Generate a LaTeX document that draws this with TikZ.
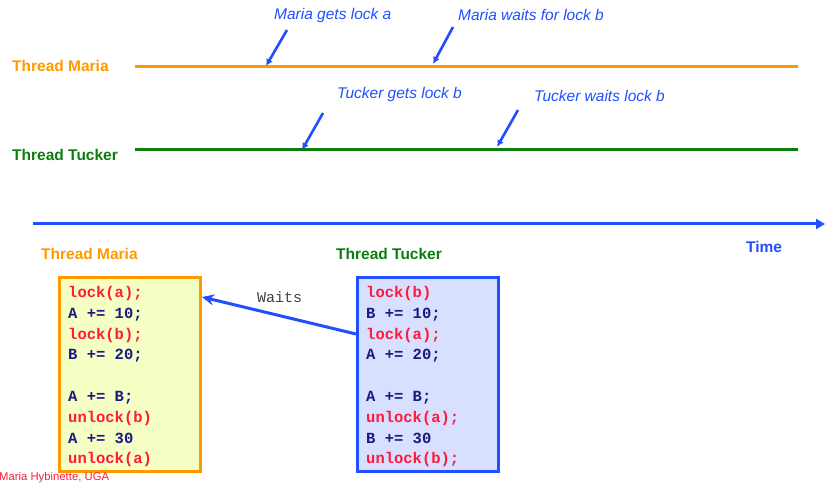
\documentclass[tikz,border=0pt]{standalone}
\usepackage{fontspec}
\setmainfont{Liberation Sans}
\setmonofont{Liberation Mono}
\usetikzlibrary{arrows.meta,calc}
\definecolor{morange}{HTML}{FF9900}
\definecolor{tgreen}{HTML}{0A7D0A}
\definecolor{ablue}{HTML}{1F4FFF}
\definecolor{cred}{HTML}{FF1A3C}
\definecolor{cnavy}{HTML}{1A1A80}
\definecolor{yfill}{HTML}{F5FFC4}
\definecolor{bfill}{HTML}{D9E0FF}
\definecolor{fred}{HTML}{FF1A3C}
\tikzset{
  lbl/.style={anchor=west,inner sep=0pt,font=\fontsize{15.5}{18}\selectfont\bfseries},
  note/.style={anchor=west,inner sep=0pt,text=ablue,font=\fontsize{15.5}{18}\selectfont\itshape},
  noteArrow/.style={draw=ablue,line width=2.6pt,-{Latex[length=7pt,width=7pt]}},
  codebox/.style={draw,line width=3pt,minimum width=141pt,minimum height=194pt,inner sep=0pt,anchor=north west},
  code/.style={anchor=north west,inner sep=0pt,align=left,font=\fontsize{15.5}{20.8}\selectfont\ttfamily\bfseries},
}
\newcommand{\rc}[1]{\textcolor{cred}{#1}}
\newcommand{\nc}[1]{\textcolor{cnavy}{#1}}
\begin{document}
\begin{tikzpicture}[x=1pt,y=-1pt]
\useasboundingbox (0,0) rectangle (825,486);
% timelines
\node[lbl,text=morange] (tm) at (12,66) {Thread Maria};
\node[lbl,text=tgreen] (tt) at (12,155) {Thread Tucker};
\coordinate (ms) at (135,67);
\coordinate (me) at (798,67);
\coordinate (ts) at (135,150);
\coordinate (te) at (798,150);
\draw[morange,line width=3pt] (ms) -- (me);
\draw[tgreen,line width=3pt] (ts) -- (te);
% annotations
\node[note] (n1) at (274,15) {Maria gets lock a};
\node[note] (n2) at (458,15) {Maria waits for lock b};
\node[note] (n3) at (337,94) {Tucker gets lock b};
\node[note] (n4) at (534,96) {Tucker waits lock b};
\coordinate (a1s) at (287,30);  \coordinate (a1e) at (266,66);
\coordinate (a2s) at (453,27);  \coordinate (a2e) at (433,64);
\coordinate (a3s) at (323,113); \coordinate (a3e) at (302,150);
\coordinate (a4s) at (518,110); \coordinate (a4e) at (497,147);
\draw[noteArrow] (a1s) -- (a1e);
\draw[noteArrow] (a2s) -- (a2e);
\draw[noteArrow] (a3s) -- (a3e);
\draw[noteArrow] (a4s) -- (a4e);
% time axis
\coordinate (xs) at (33,224);
\coordinate (xe) at (825,224);
\draw[ablue,line width=3pt,-{Triangle[length=9pt,width=10pt]}] (xs) -- (xe);
\node[lbl,text=ablue] (time) at (746,247) {Time};
% code boxes
\node[lbl,text=morange] (hm) at (41,254) {Thread Maria};
\node[lbl,text=tgreen] (ht) at (336,254) {Thread Tucker};
\node[codebox,draw=morange,fill=yfill] (mbox) at (58,276) {};
\node[codebox,draw=ablue,fill=bfill] (tbox) at (356,276) {};
\node[code] (mcode) at (68,286) {\rc{lock(a);}\\ \nc{A += 10;}\\ \rc{lock(b);}\\ \nc{B += 20;}\\[20.8pt] \nc{A += B;}\\ \rc{unlock(b)}\\ \nc{A += 30}\\ \rc{unlock(a)}};
\node[code] (tcode) at (366,286) {\rc{lock(b)}\\ \nc{B += 10;}\\ \rc{lock(a);}\\ \nc{A += 20;}\\[20.8pt] \nc{A += B;}\\ \rc{unlock(a);}\\ \nc{B += 30}\\ \rc{unlock(b);}};
% waits
\coordinate (wfrom) at ($(tbox.north west)+(0,58)$);
\coordinate (wto) at ($(mbox.north east)+(0,21)$);
\draw[ablue,line width=3pt,-{Stealth[length=12pt,width=11pt,inset=4pt]}] (wfrom) -- (wto);
\node[anchor=west,inner sep=0pt,text=black!75,font=\fontsize{15}{18}\selectfont\ttfamily] (wl) at (257,297) {Waits};
% footer
\node[anchor=west,inner sep=0pt,text=fred,font=\fontsize{11.3}{13}\selectfont] (foot) at (-1,478) {Maria Hybinette, UGA};
\end{tikzpicture}
\end{document}
